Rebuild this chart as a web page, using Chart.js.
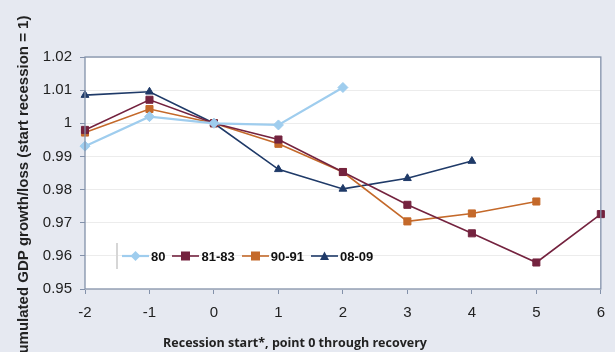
<!DOCTYPE html>
<html lang="en">
<head>
<meta charset="utf-8" />
<title>Cumulated GDP growth/loss</title>
<style>
*{box-sizing:border-box;margin:0;padding:0}
body{background:#e6e9f1;width:615px;height:352px;overflow:hidden;font-family:"Liberation Sans",Arial,sans-serif}
.wrap{position:relative;width:615px;height:352px}
canvas{display:block}
.legend{
    position:absolute;left:116px;top:243px;height:26px;
    border-left:2px solid #d6d6d6;
    display:flex;align-items:center;gap:7px;padding-left:4px;
    font-weight:bold;font-size:13px;color:#111;
}
.legend span{display:flex;align-items:center;gap:2px}
</style>
</head>
<body>
<div class="wrap">
    <canvas id="gdp" width="615" height="352"></canvas>
    <div id="legend" class="legend"></div>
</div>

<script src="https://cdn.jsdelivr.net/npm/chart.js@4.4.1"></script>
<script>
/* x categories: quarters relative to recession start */
const quarters = [-2, -1, 0, 1, 2, 3, 4, 5, 6];

/* cumulated GDP (start of recession = 1) */
const rec80   = [0.9931, 1.0020, 1.0000, 0.9995, 1.0108];
const rec8183 = [0.9980, 1.0071, 1.0000, 0.9951, 0.9853, 0.9754, 0.9668, 0.9580, 0.9726];
const rec9091 = [0.9972, 1.0043, 1.0000, 0.9938, 0.9853, 0.9704, 0.9728, 0.9764];
const rec0809 = [1.0085, 1.0095, 1.0000, 0.9861, 0.9802, 0.9834, 0.9886];

const yTicks = [0.95, 0.96, 0.97, 0.98, 0.99, 1, 1.01, 1.02];

const series = [
    {label:'80',    data:rec80,   color:'#9fcdee', style:'rectRot',  radius:5,   width:2.2},
    {label:'81-83', data:rec8183, color:'#74233f', style:'rect',     radius:5,   width:1.6},
    {label:'90-91', data:rec9091, color:'#c4692a', style:'rect',     radius:5,   width:1.6},
    {label:'08-09', data:rec0809, color:'#1f3a68', style:'triangle', radius:4.5, width:1.6}
];

/* axis titles placed like the original (both slightly off-centre) */
const axisTitles = {
    id:'axisTitles',
    afterDraw(chart){
        const c = chart.ctx;
        c.save();
        c.fillStyle = '#222';
        c.textAlign = 'center';
        c.textBaseline = 'middle';
        c.font = 'bold 15px "Liberation Sans", Arial, sans-serif';
        c.translate(24, 190);
        c.rotate(-Math.PI/2);
        c.fillText('Cumulated GDP growth/loss (start recession = 1)', 0, 0);
        c.restore();
        c.save();
        c.fillStyle = '#222';
        c.textAlign = 'center';
        c.textBaseline = 'middle';
        c.font = 'bold 12.5px "Open Sans", sans-serif';
        c.fillText('Recession start*, point 0 through recovery', 295, 343);
        c.restore();
    }
};

/* white plot area with a thin frame */
const plotFrame = {
    id:'plotFrame',
    beforeDraw(chart){
        const {ctx, chartArea:a} = chart;
        ctx.save();
        ctx.fillStyle = '#fff';
        ctx.fillRect(a.left, a.top, a.width, a.height);
        ctx.restore();
    },
    afterDatasetsDraw(chart){
        const {ctx, chartArea:a} = chart;
        ctx.save();
        ctx.strokeStyle = '#8391aa';
        ctx.lineWidth = 1.3;
        ctx.strokeRect(a.left, a.top, a.width, a.height);
        ctx.restore();
    }
};

new Chart(document.getElementById('gdp'), {
    type:'line',
    data:{
        labels:quarters,
        datasets:series.map(s=>({
            label:s.label,
            data:s.data,
            borderColor:s.color,
            backgroundColor:s.color,
            borderWidth:s.width,
            pointStyle:s.style,
            pointRadius:s.radius,
            pointBorderWidth:1,
            tension:0
        }))
    },
    options:{
        responsive:false,
        animation:false,
        layout:{padding:{top:57, right:13, left:0, bottom:0}},
        scales:{
            x:{
                type:'category',
                offset:false,
                grid:{display:true, drawOnChartArea:false, drawTicks:true, tickLength:5, color:'#8391aa'},
                border:{display:false},
                ticks:{color:'#222', font:{size:15, family:'"Liberation Sans", Arial'}, padding:10, maxRotation:0},
                afterFit(s){ s.height = 63; }
            },
            y:{
                min:0.95, max:1.02,
                afterBuildTicks(s){ s.ticks = yTicks.map(v=>({value:v})); },
                grid:{color:'#ececec', tickColor:'#8391aa', tickLength:5, lineWidth:1},
                border:{display:false},
                ticks:{color:'#222', font:{size:15, family:'"Liberation Sans", Arial'}, padding:8,
                       callback:v=>String(+v.toFixed(2))},
                afterFit(s){ s.width = 85; }
            }
        },
        plugins:{
            legend:{display:false},
            tooltip:{enabled:false}
        }
    },
    plugins:[plotFrame, axisTitles]
});

/* legend inside the plot, built from the series list */
const marker = s => {
    let shape;
    if (s.style === 'rect') shape = '<rect x="9" y="2.5" width="9" height="9" fill="'+s.color+'"/>';
    else if (s.style === 'rectRot') shape = '<polygon points="13.5,2 18.5,7 13.5,12 8.5,7" fill="'+s.color+'"/>';
    else shape = '<polygon points="13.5,2.5 18,11 9,11" fill="'+s.color+'"/>';
    return '<svg width="27" height="14"><line x1="0" y1="7" x2="27" y2="7" stroke="'+s.color+'" stroke-width="'+s.width+'"/>'+shape+'</svg>';
};
document.getElementById('legend').innerHTML =
    series.map(s=>'<span>'+marker(s)+s.label+'</span>').join('');
</script>
</body>
</html>
